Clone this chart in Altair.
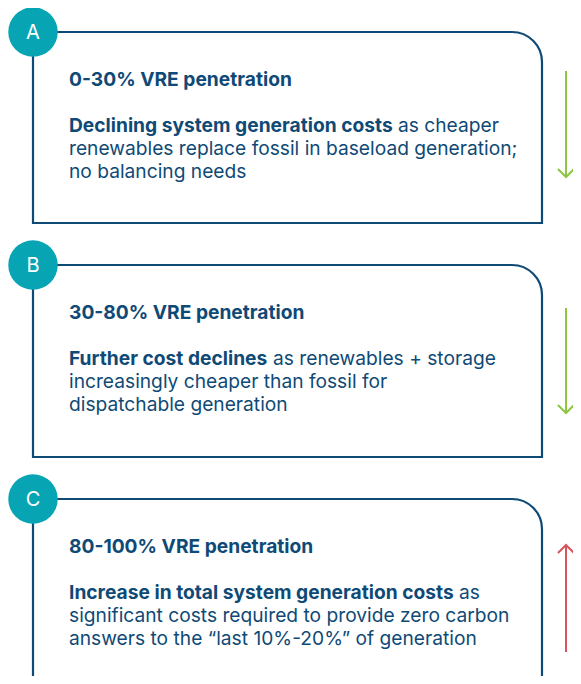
import altair as alt
import pandas as pd

# ---- content -------------------------------------------------------------
labels = ["A", "B", "C"]
titles = ["0-30% VRE penetration", "30-80% VRE penetration", "80-100% VRE penetration"]
bold_leads = ["Declining system generation costs", "Further cost declines",
              "Increase in total system generation costs"]
lead_rests = ["as cheaper", "as renewables + storage", "as"]
second_lines = ["renewables replace fossil in baseload generation;",
                "increasingly cheaper than fossil for",
                "significant costs required to provide zero carbon"]
third_lines = ["no balancing needs", "dispatchable generation",
               "answers to the \u201clast 10%-20%\u201d of generation"]
directions = ["down", "down", "up"]

# ---- layout (page pixel coordinates) ----------------------------------
M = 8
PW, PH = 565, 668          # drawable svg size
box_left, box_right = 33, 542
box_tops = [32, 265, 499]
box_bottoms = [223, 457, 720]
text_x = 69
rest_x = [398, 273, 459]
title_off, l1_off, l2_off, l3_off = 54, 99.5, 122.5, 145.5
arrow_x = [566, 566, 566]
arrow_ranges = [(71, 177), (308, 413), (652, 545)]  # (start, tip)

NAVY = "#0f4a76"
TEAL = "#07a5b4"
GREEN = "#8dc63f"
RED = "#d6565c"

boxes = pd.DataFrame({
    "x": [box_left] * 3, "x2": [box_right] * 3,
    "y": box_tops, "y2": box_bottoms, "label": labels,
})

rows = []
for i in range(3):
    t = box_tops[i]
    rows.append(dict(x=text_x, y=t + title_off, text=titles[i], bold=True))
    rows.append(dict(x=text_x, y=t + l1_off, text=bold_leads[i], bold=True))
    rows.append(dict(x=rest_x[i], y=t + l1_off, text=lead_rests[i], bold=False))
    rows.append(dict(x=text_x, y=t + l2_off, text=second_lines[i], bold=False))
    rows.append(dict(x=text_x, y=t + l3_off, text=third_lines[i], bold=False))
texts = pd.DataFrame(rows)

arrows = pd.DataFrame({
    "x": arrow_x,
    "y": [a[0] for a in arrow_ranges],
    "y2": [a[1] for a in arrow_ranges],
    "dir": directions,
    "color": [GREEN if d == "down" else RED for d in directions],
})

xs = alt.Scale(domain=[M, M + PW], range=[0, PW], nice=False, zero=False)
ys = alt.Scale(domain=[M + PH, M], range=[PH, 0], nice=False, zero=False)

X = lambda f: alt.X(f, type="quantitative", scale=xs, axis=None)
Y = lambda f: alt.Y(f, type="quantitative", scale=ys, axis=None)

FS = 19.2

box_layer = alt.Chart(boxes).mark_rect(
    fillOpacity=0, stroke=NAVY, strokeWidth=2.2, cornerRadiusTopRight=30
).encode(x=X("x"), x2="x2", y=Y("y"), y2="y2")

circle_layer = alt.Chart(boxes).mark_point(
    shape="circle", filled=True, size=2450, color=TEAL, opacity=1
).encode(x=X("x"), y=Y("y"))

letter_layer = alt.Chart(boxes).mark_text(
    font="Inter", fontSize=20, color="white", align="center", baseline="middle", dy=1
).encode(x=X("x"), y=Y("y"), text="label:N")

bold_text = alt.Chart(texts).transform_filter("datum.bold").mark_text(
    font="Inter", fontSize=FS, fontWeight="bold", color=NAVY, align="left",
    baseline="alphabetic"
).encode(x=X("x"), y=Y("y"), text="text:N")

reg_text = alt.Chart(texts).transform_filter("!datum.bold").mark_text(
    font="Inter", fontSize=FS, color=NAVY, align="left", baseline="alphabetic"
).encode(x=X("x"), y=Y("y"), text="text:N")

shaft = alt.Chart(arrows).mark_rule(strokeWidth=2).encode(
    x=X("x"), y=Y("y"), y2="y2", color=alt.Color("color:N", scale=None)
)

head_down = alt.Chart(arrows).transform_filter("datum.dir == 'down'").mark_point(
    shape="M -1 -1 L 0 0 L 1 -1", filled=False, size=260, strokeWidth=2, opacity=1
).encode(x=X("x"), y=Y("y2"), color=alt.Color("color:N", scale=None))

head_up = alt.Chart(arrows).transform_filter("datum.dir == 'up'").mark_point(
    shape="M -1 1 L 0 0 L 1 1", filled=False, size=260, strokeWidth=2, opacity=1
).encode(x=X("x"), y=Y("y2"), color=alt.Color("color:N", scale=None))

chart = alt.layer(
    box_layer, circle_layer, letter_layer, bold_text, reg_text, shaft, head_down, head_up
).properties(
    width=PW, height=PH, padding=0, background="white",
    autosize=alt.AutoSizeParams(type="none")
).configure_view(stroke=None)

chart.save("out.html", embed_options={"renderer": "svg", "actions": False})
